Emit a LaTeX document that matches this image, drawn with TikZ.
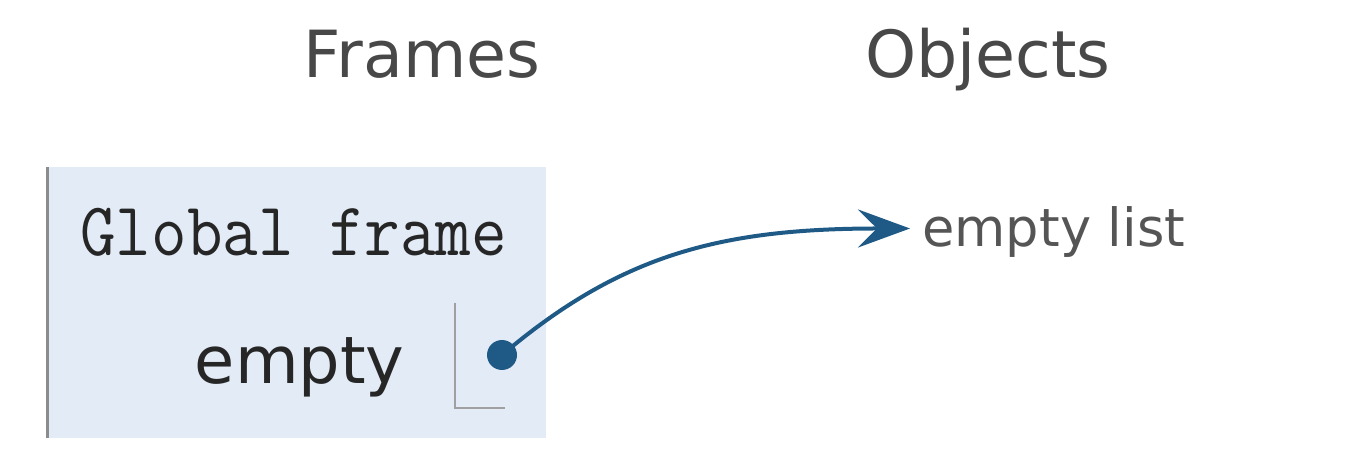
\documentclass[tikz,border=0pt]{standalone}
\usepackage{fontspec}
\setmainfont{DejaVu Sans}
\usetikzlibrary{arrows.meta}
\definecolor{framebg}{HTML}{E2EBF6}
\definecolor{arrowc}{HTML}{1F5A87}
\definecolor{headc}{HTML}{484848}
\definecolor{labc}{HTML}{555555}
\definecolor{linec}{HTML}{A0A0A0}
\tikzset{
  heading/.style={anchor=base, inner sep=0pt, text=headc, font=\fontsize{32.5pt}{36pt}\selectfont},
  varname/.style={anchor=base east, inner sep=0pt, text=black!85, font=\fontsize{32.7pt}{36pt}\selectfont},
  objlabel/.style={anchor=base west, inner sep=0pt, text=labc, font=\fontsize{26.3pt}{30pt}\selectfont},
  frametitle/.style={anchor=base west, inner sep=0pt, text=black!85, font=\ttfamily\fontsize{34.5pt}{38pt}\selectfont},
  pointer/.style={arrowc, line width=2pt, -{Stealth[length=26pt,width=19pt,inset=9.5pt]}},
  ptrdot/.style={circle, fill=arrowc, inner sep=0pt, minimum size=15pt},
}
\begin{document}
\begin{tikzpicture}[x=0.5pt,y=-0.5pt]
\useasboundingbox (0,0) rectangle (1364,464);
% frame box
\fill[framebg] (46,167) rectangle (546,438);
\draw[black!45, line width=1.5pt] (47,167) -- (47,438);
% headings
\node[heading] (frames) at (422,78) {Frames};
\node[heading] (objects) at (988,78) {Objects};
% frame content
\node[frametitle] (gf) at (80,256) {\scalebox{1}[1.1]{Global frame}};
\node[varname] (var) at (405,383) {empty};
\draw[linec, line width=1pt] (455,303) -- (455,408) -- (505,408);
\node[ptrdot] (dot) at (502,355) {};
% object
\node[objlabel] (elist) at (922,247) {empty list};
% pointer
\draw[pointer] (dot.center) .. controls +(118,-100) and +(-190,0) .. ([xshift=-6pt,yshift=2pt]elist.west);
\end{tikzpicture}
\end{document}
